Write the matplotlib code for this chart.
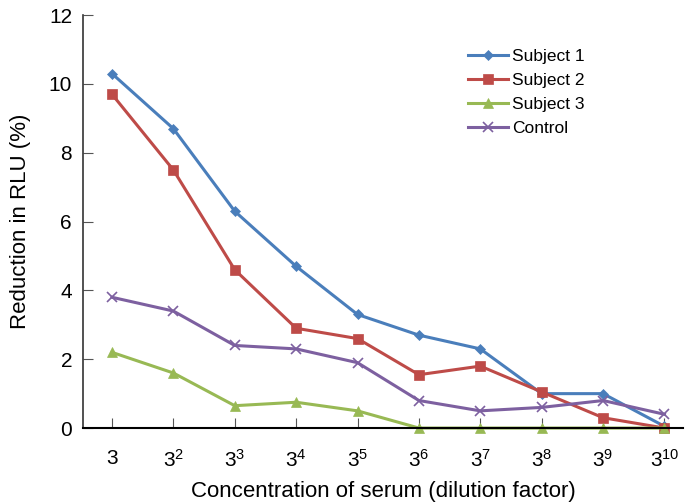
import numpy as np
import matplotlib
matplotlib.use("Agg")
import matplotlib.pyplot as plt
from matplotlib import font_manager

# Data
dilutions = ["3"] + [rf"$\mathregular{{3^{{{k}}}}}$" for k in range(2, 11)]
subject1 = [10.3, 8.7, 6.3, 4.7, 3.3, 2.7, 2.3, 1.0, 1.0, 0.05]
subject2 = [9.7, 7.5, 4.6, 2.9, 2.6, 1.55, 1.8, 1.05, 0.3, 0.0]
subject3 = [2.2, 1.6, 0.65, 0.75, 0.5, 0.0, 0.0, 0.0, 0.0, 0.0]
control = [3.8, 3.4, 2.4, 2.3, 1.9, 0.8, 0.5, 0.6, 0.8, 0.4]

names = [f.name for f in font_manager.fontManager.ttflist]
family = "Liberation Sans Narrow" if "Liberation Sans Narrow" in names else "Liberation Sans"
plt.rcParams['font.family'] = [family, 'DejaVu Sans']
plt.rcParams['mathtext.fontset'] = 'custom'
plt.rcParams['mathtext.rm'] = family

fig = plt.figure(figsize=(6.87, 5.03), dpi=100)
ax = fig.add_axes([0.121, 0.149, 0.873, 0.821])

x = np.arange(len(dilutions))
series = [
    ("Subject 1", subject1, "#4A7EBB", "D", 5),
    ("Subject 2", subject2, "#BE4B48", "s", 7),
    ("Subject 3", subject3, "#98B954", "^", 7),
    ("Control", control, "#7D60A0", "x", 7),
]
for label, vals, color, marker, ms in series:
    ax.plot(x, vals, color=color, marker=marker, markersize=ms, linewidth=2.2,
            markeredgewidth=1.2 if marker == "x" else 0.5, label=label, clip_on=False)

ax.set_xlim(-0.47, 9.3)
ax.set_ylim(0, 12)
ax.set_yticks(range(0, 13, 2))
ax.set_xticks(x)
ax.set_xticklabels(dilutions)
ax.tick_params(axis='both', labelsize=15, direction='in', length=7, color='#555555')
ax.tick_params(axis='x', pad=15)
ax.tick_params(axis='y', pad=8)
for s in ['top', 'right']:
    ax.spines[s].set_visible(False)
ax.spines['left'].set_color('#333333')
ax.spines['bottom'].set_color('black')
ax.spines['left'].set_linewidth(1.2)
ax.spines['bottom'].set_linewidth(1.5)

ax.set_xlabel("Concentration of serum (dilution factor)", fontsize=16, labelpad=7)
ax.set_ylabel("Reduction in RLU (%)", fontsize=16, labelpad=13)

ax.legend(loc='upper left', bbox_to_anchor=(0.642, 0.918), frameon=False, fontsize=12.5,
          handlelength=2.3, handletextpad=0.25, labelspacing=0.5,
          borderpad=0, borderaxespad=0)

fig.savefig("out.png", dpi=100)
